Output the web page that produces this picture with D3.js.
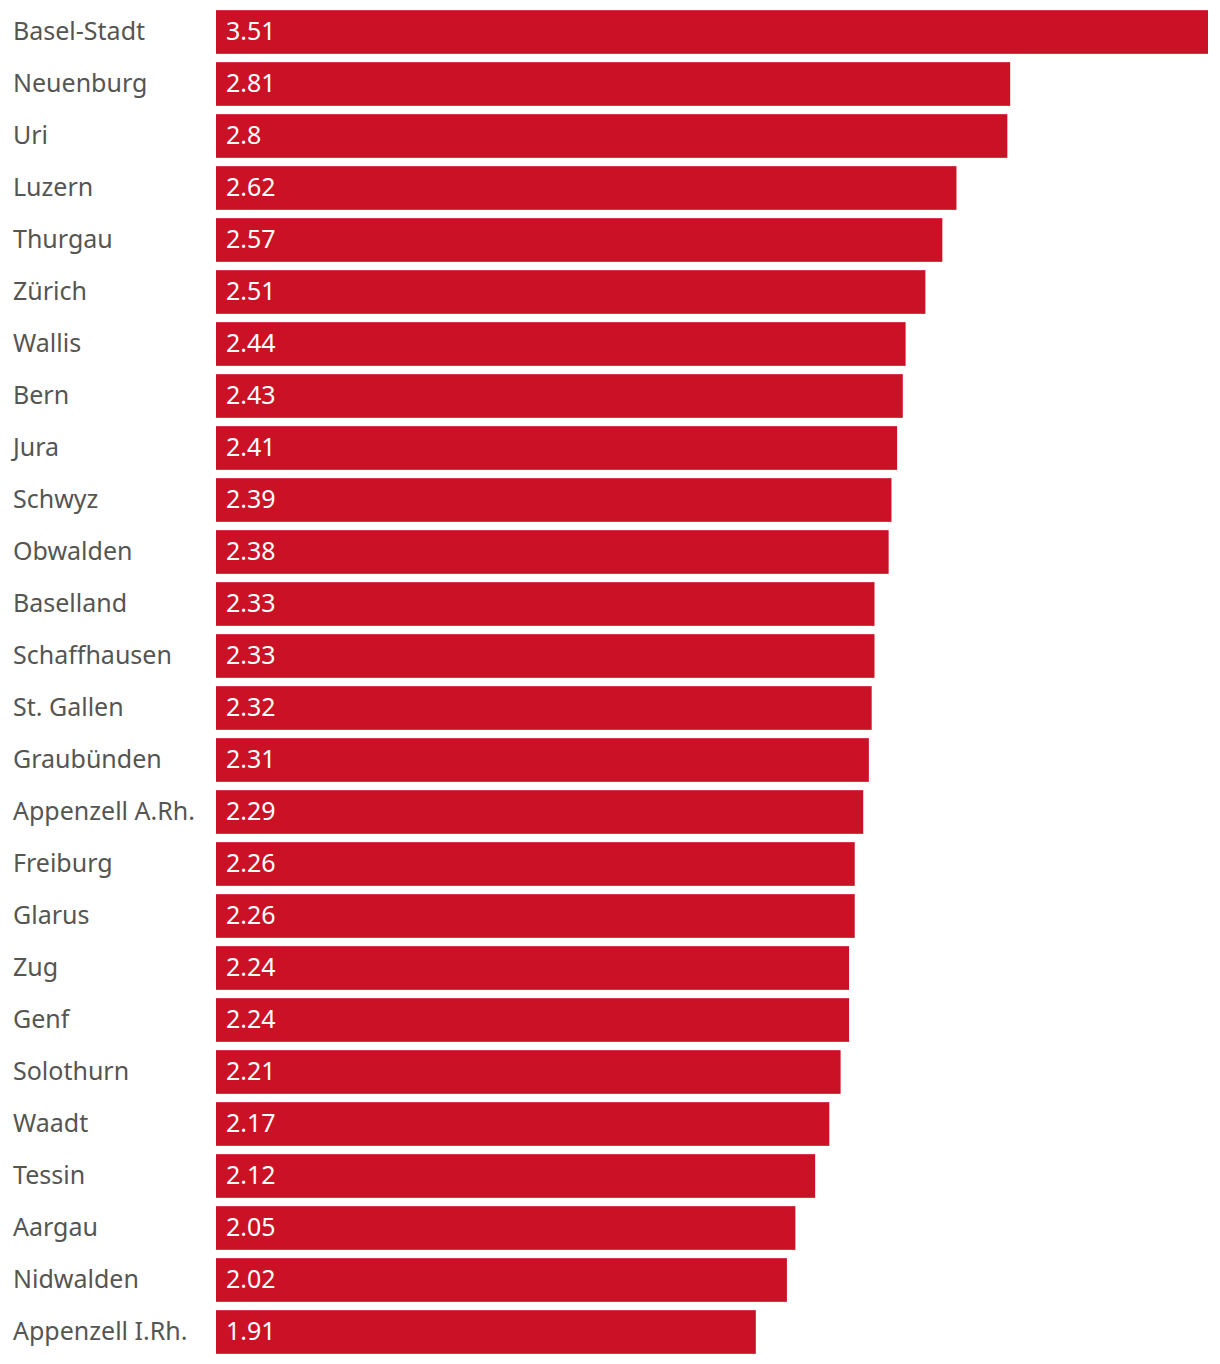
<!DOCTYPE html>
<html><head><meta charset="utf-8">
<script src="https://cdn.jsdelivr.net/npm/d3@7"></script>
<style>body{margin:0;background:#fff}svg{display:block}</style>
</head><body>
<script>
const cantons = ["Basel-Stadt","Neuenburg","Uri","Luzern","Thurgau","Zürich","Wallis","Bern","Jura","Schwyz","Obwalden","Baselland","Schaffhausen","St. Gallen","Graubünden","Appenzell A.Rh.","Freiburg","Glarus","Zug","Genf","Solothurn","Waadt","Tessin","Aargau","Nidwalden","Appenzell I.Rh."];
const values = [3.51,2.81,2.8,2.62,2.57,2.51,2.44,2.43,2.41,2.39,2.38,2.33,2.33,2.32,2.31,2.29,2.26,2.26,2.24,2.24,2.21,2.17,2.12,2.05,2.02,1.91];
const valueLabels = ["3.51","2.81","2.8","2.62","2.57","2.51","2.44","2.43","2.41","2.39","2.38","2.33","2.33","2.32","2.31","2.29","2.26","2.26","2.24","2.24","2.21","2.17","2.12","2.05","2.02","1.91"];

const W = 1220, H = 1364;
const svg = d3.select("body").append("svg").attr("width", W).attr("height", H);
const x = d3.scaleLinear().domain([0, 3.51]).range([216, 1208]);
const y = d3.scaleBand().domain(cantons).range([6, 1358]).paddingInner(0.16).paddingOuter(0.08);
const font = "'Noto Sans', sans-serif";

const g = svg.selectAll("g.row").data(cantons).enter().append("g");
g.append("rect")
  .attr("x", x(0))
  .attr("y", d => y(d))
  .attr("width", (d,i) => x(values[i]) - x(0))
  .attr("height", y.bandwidth())
  .attr("fill", "#CB1126");
g.append("text")
  .attr("x", 13)
  .attr("y", d => y(d) + y.bandwidth()/2)
  .attr("dy", "0.32em")
  .attr("font-family", font)
  .attr("font-size", 25)
  .attr("fill", "#555552")
  .text(d => d);
g.append("text")
  .attr("x", x(0) + 10)
  .attr("y", d => y(d) + y.bandwidth()/2)
  .attr("dy", "0.32em")
  .attr("font-family", font)
  .attr("font-size", 25)
  .attr("fill", "#fff")
  .text((d,i) => valueLabels[i]);
</script>
</body></html>
